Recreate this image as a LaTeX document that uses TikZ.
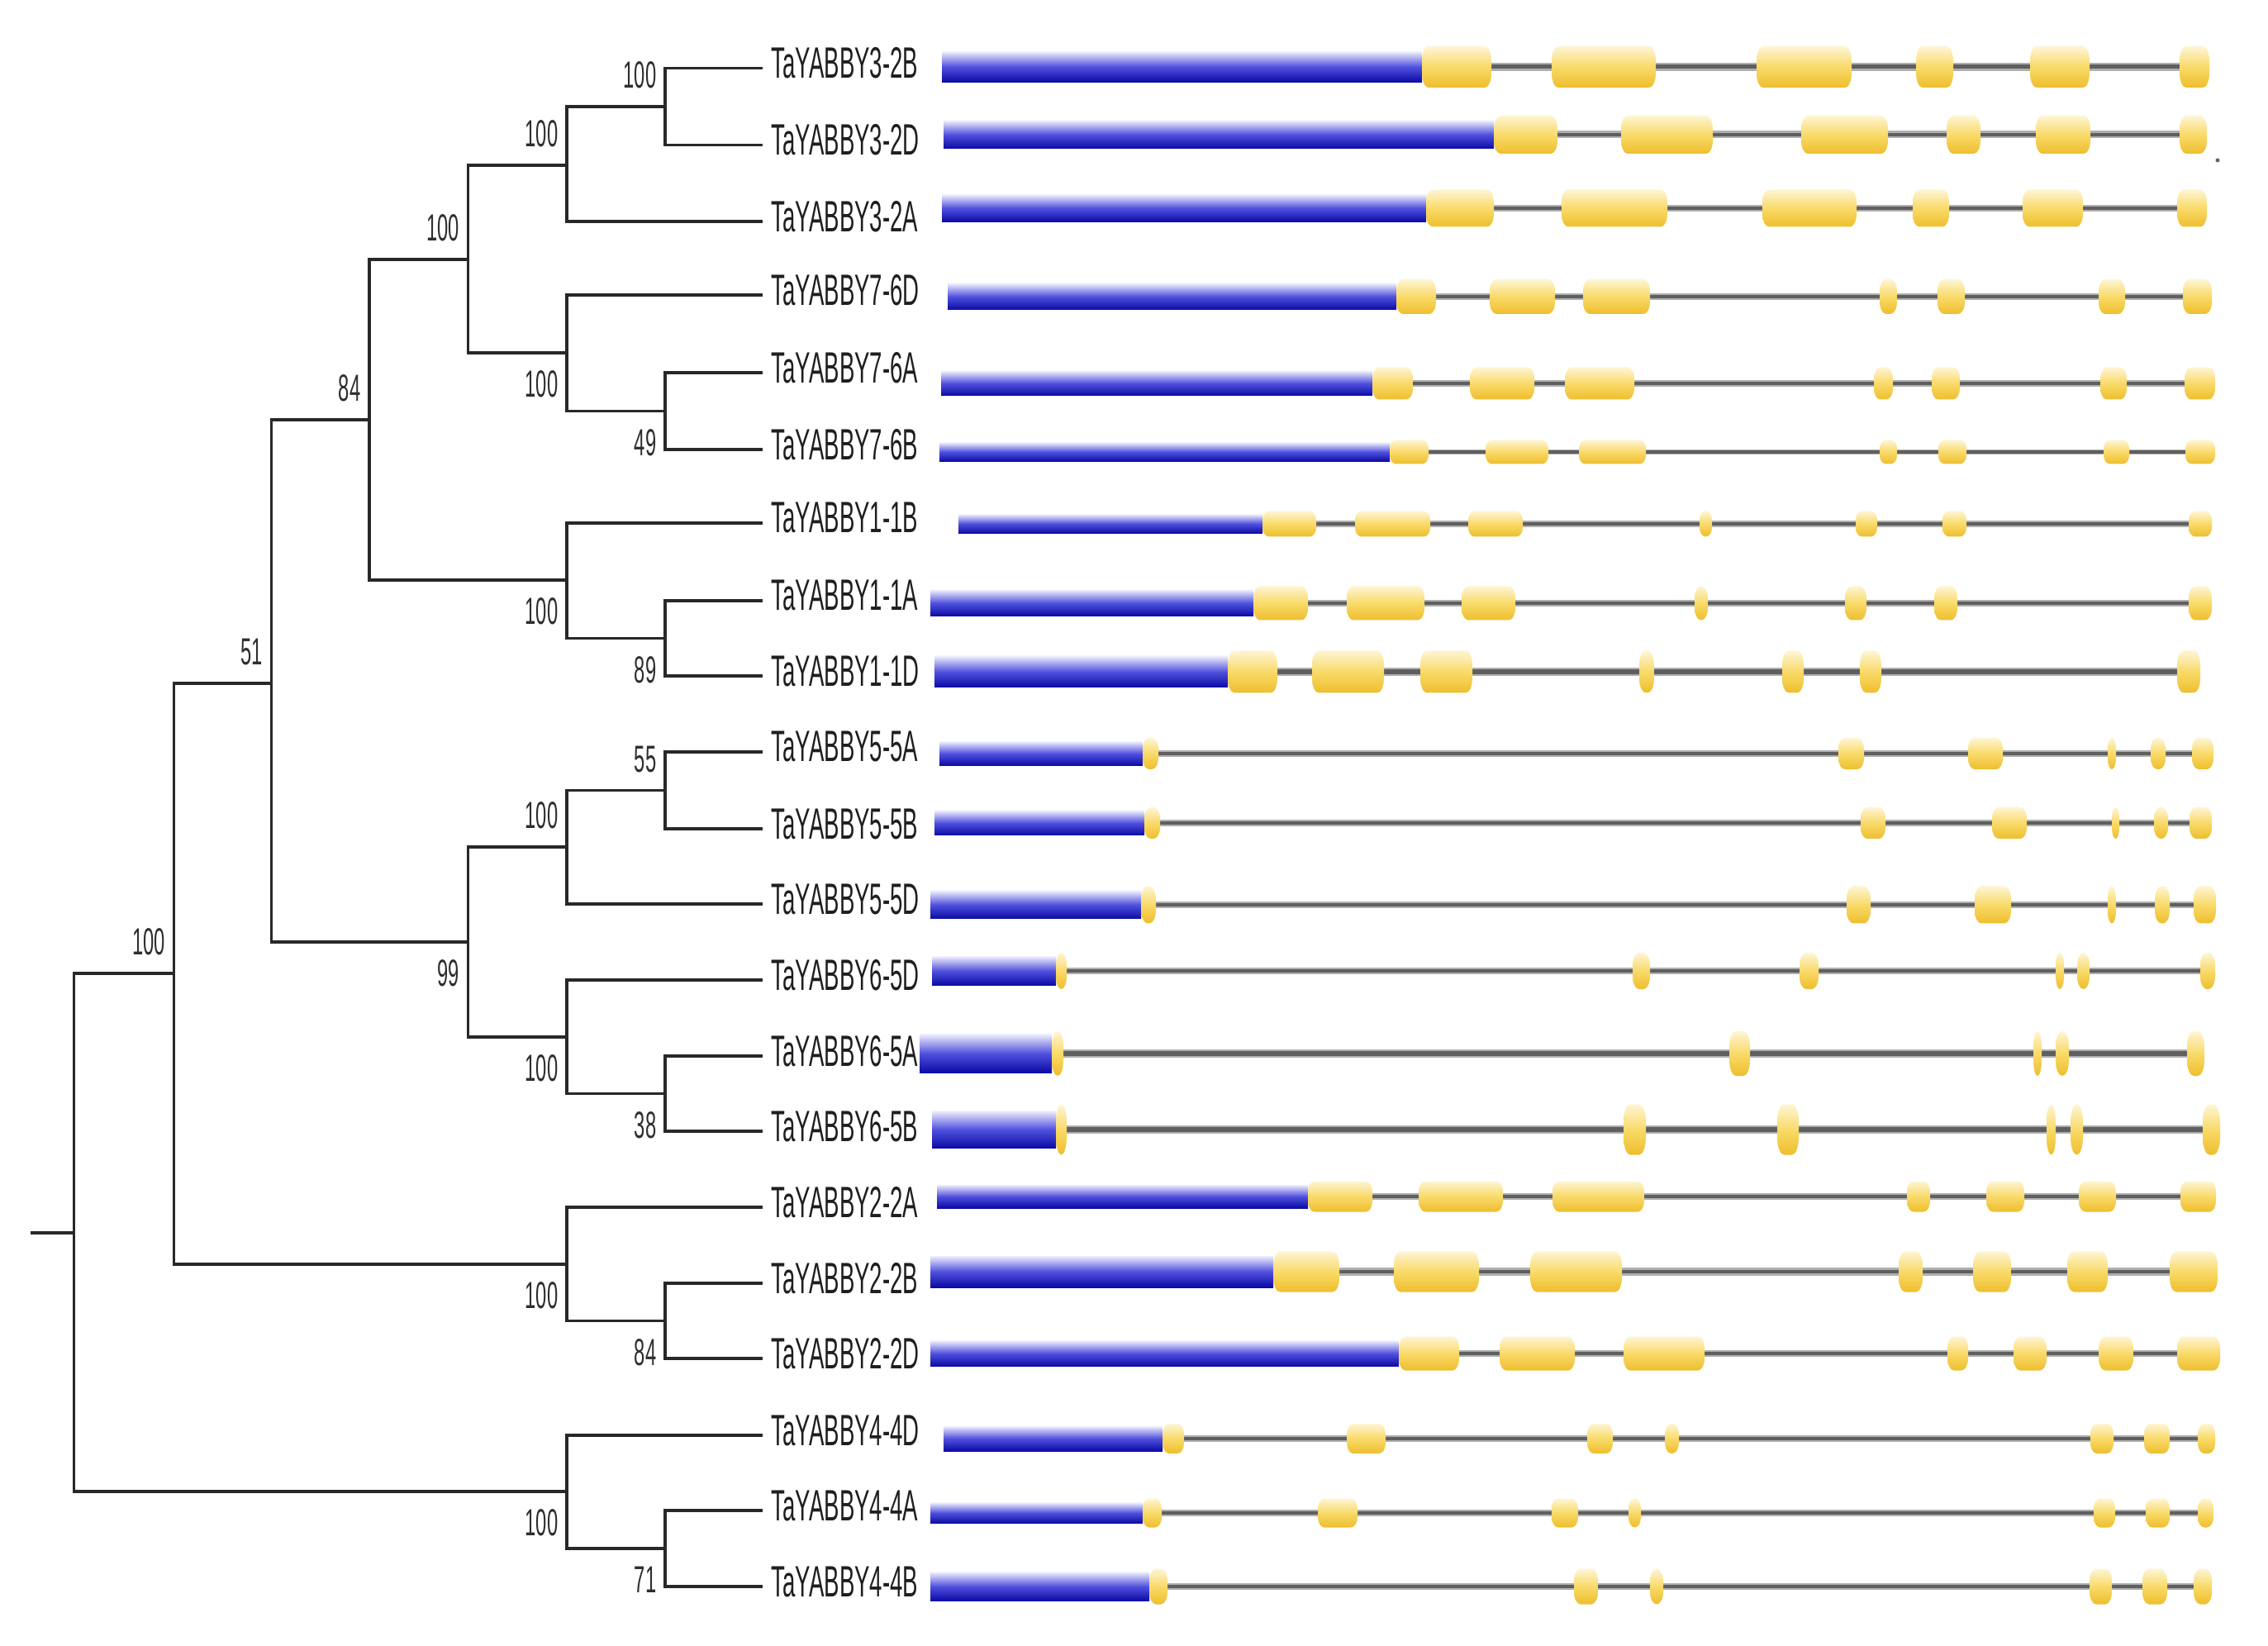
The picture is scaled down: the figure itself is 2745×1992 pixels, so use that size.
\documentclass[tikz,border=0pt]{standalone}
\usepackage{fontspec}
\newfontfamily\taxonfont[FakeStretch=0.52]{Liberation Sans}

\definecolor{utrtop}{RGB}{238,238,253}
\definecolor{utrmid}{RGB}{80,80,222}
\definecolor{utrbot}{RGB}{10,10,165}
\definecolor{exontop}{RGB}{254,245,212}
\definecolor{exonmid}{RGB}{249,218,105}
\definecolor{exonbot}{RGB}{238,190,45}
\definecolor{introncore}{RGB}{95,95,95}
\definecolor{intronhalo}{RGB}{175,175,175}
\definecolor{branchcol}{RGB}{40,40,40}

\tikzset{
  branch/.style={draw=branchcol, line width=0.032cm},
  taxon/.style={anchor=west, inner sep=0pt, xshift=0.1cm, yshift=0.06cm, text=black!88,
    font=\taxonfont\fontsize{15.1}{18}\selectfont},
  boot/.style={anchor=east, inner sep=0pt, text=black!82, font=\taxonfont\fontsize{13}{15}\selectfont},
  utr/.style={top color=utrtop, bottom color=utrbot, middle color=utrmid},
  exonfill/.style={top color=exontop, bottom color=exonbot, middle color=exonmid},
  halo/.style={draw=intronhalo},
  core/.style={draw=introncore},
}

% exon: x1, x2, y, height
\newcommand\exon[4]{%
  \pgfmathsetmacro\ex{min((#2-#1)/2,8)}%
  \pgfmathsetmacro\ey{0.35*#4}%
  \shade[exonfill] (#1+\ex,-#3+#4/2) -- (#2-\ex,-#3+#4/2)
    arc[start angle=90, end angle=0, x radius=\ex, y radius=\ey] -- (#2,-#3-#4/2+\ey)
    arc[start angle=0, end angle=-90, x radius=\ex, y radius=\ey] -- (#1+\ex,-#3-#4/2)
    arc[start angle=270, end angle=180, x radius=\ex, y radius=\ey] -- (#1,-#3+#4/2-\ey)
    arc[start angle=180, end angle=90, x radius=\ex, y radius=\ey] -- cycle;}

% gene: y, utr height, exon height, utr start, utr end, intron end, exons
\newcommand\gene[7]{%
  \pgfmathsetlengthmacro\iw{(3+0.13*#3)*0.01cm}%
  \pgfmathsetlengthmacro\cw{(1.5+0.07*#3)*0.01cm}%
  \draw[halo, line width=\iw] (#5,-#1) -- (#6,-#1);
  \draw[core, line width=\cw] (#5,-#1) -- (#6,-#1);
  \shade[utr] (#4,-#1+#2/2) rectangle (#5,-#1-#2/2);
  \foreach \a/\b in {#7} {\exon{\a}{\b}{#1}{#3}}}

\begin{document}
\begin{tikzpicture}[x=0.01cm, y=0.01cm]
        \fill[white] (0,0) rectangle (2745,-1992);
        \useasboundingbox (0,0) rectangle (2745,-1992);

        % tree
        \coordinate (stub) at (36.7,-1492);
        \coordinate (nR) at (89.5,-1492);
        \coordinate (nA) at (210.5,-1178);
        \coordinate (nB) at (328.5,-827);
        \coordinate (nC) at (447,-508);
        \coordinate (nD) at (566.5,-314);
        \coordinate (n32) at (686,-200);
        \coordinate (n32BD) at (805,-129);
        \coordinate (n76) at (686,-427);
        \coordinate (n76AB) at (805,-497.5);
        \coordinate (n11) at (686,-702);
        \coordinate (n11AD) at (805,-772.5);
        \coordinate (n99) at (566.5,-1140);
        \coordinate (n55) at (686,-1025);
        \coordinate (n55AB) at (805,-956.5);
        \coordinate (n65) at (686,-1255);
        \coordinate (n65AB) at (805,-1323.5);
        \coordinate (n22) at (686,-1530);
        \coordinate (n22BD) at (805,-1598.5);
        \coordinate (n44) at (686,-1805);
        \coordinate (n44AB) at (805,-1874);

        \foreach \t/\y/\s in {32B/82.6/3-2B, 32D/175.4/3-2D, 32A/268/3-2A, 76D/357/7-6D, 76A/451/7-6A,
            76B/544/7-6B, 11B/633/1-1B, 11A/727/1-1A, 11D/818/1-1D, 55A/910/5-5A, 55B/1003/5-5B,
            55D/1094/5-5D, 65D/1186/6-5D, 65A/1278/6-5A, 65B/1369/6-5B, 22A/1461/2-2A, 22B/1553/2-2B,
            22D/1644/2-2D, 44D/1737/4-4D, 44A/1828/4-4A, 44B/1920/4-4B} {
            \coordinate (t\t) at (923,-\y);
            \node[taxon] (l\t) at (t\t) {TaYABBY\s};
        }

        \draw[branch] (stub) -- (nR);
        \foreach \p/\c in {nR/nA, nR/n44, nA/nB, nA/n22, nB/nC, nB/n99, nC/nD, nC/n11,
            nD/n32, nD/n76, n32/n32BD, n32/t32A, n32BD/t32B, n32BD/t32D,
            n76/t76D, n76/n76AB, n76AB/t76A, n76AB/t76B,
            n11/t11B, n11/n11AD, n11AD/t11A, n11AD/t11D,
            n99/n55, n99/n65, n55/n55AB, n55/t55D, n55AB/t55A, n55AB/t55B,
            n65/t65D, n65/n65AB, n65AB/t65A, n65AB/t65B,
            n22/t22A, n22/n22BD, n22BD/t22B, n22BD/t22D,
            n44/t44D, n44/n44AB, n44AB/t44A, n44AB/t44B}
            \draw[branch] (\p) |- (\c);

        \foreach \n/\d/\v in {nA/38/100, nB/38/51, nC/38/84, nD/38/100, n32/38/100, n32BD/38/100,
            n76/-38/100, n76AB/-38/49, n11/-38/100, n11AD/-38/89, n99/-38/99,
            n55/38/100, n55AB/38/55, n65/-38/100, n65AB/-38/38,
            n22/-38/100, n22BD/-38/84, n44/-38/100, n44AB/-38/71}
            \node[boot] (b\n) at ([shift={(-10,\d)}]\n) {\v};

        % gene structures
        \gene{81}{37}{50}{1140}{1721}{2674}{1721/1805,1878/2004,2126/2241,2319/2364,2457/2529,2638/2674}
        \gene{163}{34}{46}{1142}{1808}{2671}{1808/1885,1962/2073,2180/2285,2356/2397,2464/2530,2638/2671}
        \gene{252}{33}{45}{1140}{1726}{2671}{1726/1808,1890/2018,2133/2247,2315/2359,2448/2521,2635/2671}
        \gene{359}{32}{42}{1147}{1690}{2677}{1690/1738,1803/1882,1916/1997,2275/2296,2345/2378,2540/2572,2642/2677}
        \gene{464}{30}{39}{1139}{1661}{2681}{1661/1710,1779/1857,1894/1978,2268/2291,2338/2372,2542/2574,2644/2681}
        \gene{547}{23}{29}{1137}{1682}{2681}{1682/1729,1798/1874,1911/1992,2275/2296,2346/2380,2546/2577,2645/2681}
        \gene{634}{23}{31}{1160}{1528}{2677}{1528/1593,1640/1731,1777/1843,2057/2072,2246/2272,2351/2380,2649/2677}
        \gene{730}{32}{41}{1126}{1517}{2677}{1517/1583,1630/1724,1769/1834,2051/2067,2233/2259,2341/2369,2649/2677}
        \gene{813}{38}{51}{1131}{1486}{2663}{1486/1546,1588/1675,1719/1782,1984/2002,2157/2183,2251/2277,2635/2663}
        \gene{912}{29}{38}{1137}{1383}{2679}{1383/1402,2225/2256,2382/2424,2551/2561,2603/2621,2653/2679}
        \gene{996}{30}{38}{1131}{1385}{2677}{1385/1404,2252/2282,2411/2453,2556/2565,2607/2624,2650/2677}
        \gene{1095}{34}{45}{1126}{1381}{2682}{1381/1399,2235/2264,2390/2434,2551/2561,2608/2626,2655/2682}
        \gene{1175}{35}{44}{1128}{1278}{2681}{1278/1291,1976/1997,2178/2201,2488/2498,2514/2529,2663/2681}
        \gene{1275}{47}{54}{1113}{1273}{2668}{1273/1287,2093/2118,2461/2471,2488/2504,2647/2668}
        \gene{1367}{45}{61}{1128}{1278}{2687}{1278/1291,1965/1992,2151/2177,2477/2488,2506/2521,2666/2687}
        \gene{1448}{28}{37}{1134}{1583}{2682}{1583/1661,1717/1819,1879/1990,2308/2336,2404/2450,2516/2561,2639/2682}
        \gene{1539}{38}{49}{1126}{1541}{2684}{1541/1621,1687/1790,1852/1963,2298/2327,2388/2434,2502/2551,2626/2684}
        \gene{1638}{31}{41}{1126}{1693}{2687}{1693/1766,1815/1906,1965/2063,2357/2382,2437/2477,2540/2582,2635/2687}
        \gene{1741}{30}{36}{1142}{1407}{2681}{1407/1433,1630/1677,1921/1952,2015/2032,2530/2558,2595/2626,2660/2681}
        \gene{1831}{25}{35}{1126}{1383}{2679}{1383/1406,1595/1643,1878/1910,1971/1986,2534/2560,2597/2626,2660/2679}
        \gene{1920}{35}{43}{1126}{1391}{2677}{1391/1413,1905/1934,1997/2013,2529/2556,2593/2623,2655/2677}

        \fill[black!60] (2684,-194) circle[radius=2.5];
\end{tikzpicture}
\end{document}
